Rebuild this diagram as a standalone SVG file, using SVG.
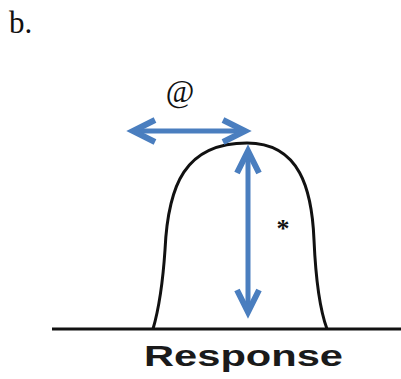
<svg xmlns="http://www.w3.org/2000/svg" width="401" height="379" viewBox="0 0 401 379">
  <style>
    .serif { font-family: "Liberation Serif", "Times New Roman", serif; fill: #111; }
    .sans { font-family: "Liberation Sans", Arial, sans-serif; fill: #1a1a1a; font-weight: bold; }
    .arrow { stroke: #4a7ebf; stroke-width: 5; fill: none; }
    .curve { stroke: #111; stroke-width: 3; fill: none; }
  </style>
  <defs>
    <marker id="head" markerUnits="userSpaceOnUse" markerWidth="40" markerHeight="40" refX="0" refY="0" orient="auto-start-reverse" overflow="visible">
      <path d="M-22,-11 L0,0 L-22,11" fill="none" stroke="#4a7ebf" stroke-width="6" stroke-linejoin="miter"/>
    </marker>
  </defs>
  <rect width="401" height="379" fill="#fff"/>
  <text id="label-b" class="serif" x="9" y="33" font-size="31">b.</text>
  <g id="baseline">
    <line x1="52" y1="329" x2="401" y2="329" stroke="#111" stroke-width="3"/>
  </g>
  <g id="response-curve">
    <path class="curve" d="M153,329 C160,305 163,280 165,250 C168,185 185,143 247,143 C300,143 312,190 314,240 C316,285 320,310 327,329"/>
  </g>
  <g id="connectors">
    <line class="arrow" x1="133" y1="131" x2="245" y2="131" marker-start="url(#head)" marker-end="url(#head)"/>
    <line class="arrow" x1="248" y1="151" x2="248" y2="312" marker-start="url(#head)" marker-end="url(#head)"/>
  </g>
  <g id="label-at">
    <text class="serif" x="180" y="102" font-size="31" text-anchor="middle">@</text>
  </g>
  <g id="label-star">
    <text class="serif" x="283" y="237" font-size="26" font-weight="bold" text-anchor="middle">*</text>
  </g>
  <g id="label-response">
    <text class="sans" x="144" y="366" font-size="29" textLength="199" lengthAdjust="spacingAndGlyphs">Response</text>
  </g>
</svg>
